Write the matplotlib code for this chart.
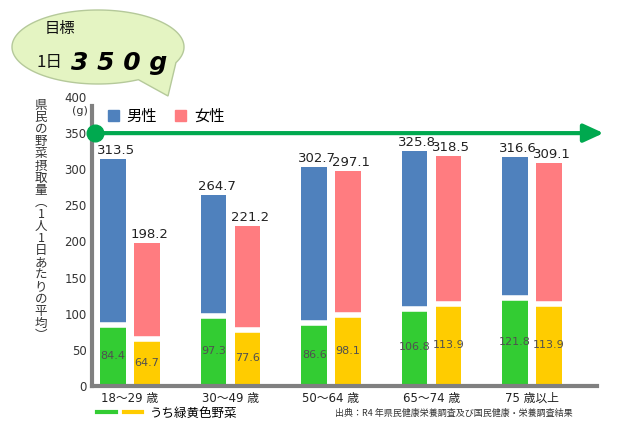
import numpy as np
import matplotlib
matplotlib.use("Agg")
import matplotlib.pyplot as plt
from matplotlib.patches import Patch, PathPatch
from matplotlib.path import Path
from matplotlib.lines import Line2D
from matplotlib.legend_handler import HandlerTuple

plt.rcParams['font.family'] = ['DejaVu Sans', 'Noto Sans CJK JP']

# data
ages = ['18～29 歳', '30～49 歳', '50～64 歳', '65～74 歳', '75 歳以上']
male_total = [313.5, 264.7, 302.7, 325.8, 316.6]
female_total = [198.2, 221.2, 297.1, 318.5, 309.1]
male_gy = [84.4, 97.3, 86.6, 106.8, 121.8]      # うち緑黄色野菜 (男性)
female_gy = [64.7, 77.6, 98.1, 113.9, 113.9]    # うち緑黄色野菜 (女性)
target = 350

c_blue = '#4f81bd'
c_pink = '#ff7c80'
c_green = '#33cc33'
c_yellow = '#ffcc00'
c_axis = '#808080'

W, H = 631, 426
fig = plt.figure(figsize=(W / 100, H / 100), dpi=100)
ax = fig.add_axes([92 / W, 1 - 386 / H, 505 / W, 289 / H])

x = np.arange(len(ages))
off, bw = 0.167, 0.254

for xs, tot, gy, top_c, low_c in [(x - off, male_total, male_gy, c_blue, c_green),
                                  (x + off, female_total, female_gy, c_pink, c_yellow)]:
    tot = np.array(tot)
    gy = np.array(gy)
    ax.bar(xs, gy, bw, color=low_c, zorder=2)
    ax.bar(xs, tot - gy, bw, bottom=gy, color=top_c, zorder=2)
    ax.hlines(gy, xs - bw / 2, xs + bw / 2, color='white', lw=4, zorder=3)
    for xi, t, g in zip(xs, tot, gy):
        ax.annotate(f'{t:.1f}', (xi, t), xytext=(2, 1.5), textcoords='offset points',
                    ha='center', va='bottom', fontsize=9.5, color='#222222', zorder=7)
        ax.text(xi, g / 2, f'{g:.1f}', ha='center', va='center', fontsize=8,
                color='#505050', zorder=4)

ax.set_xlim(-0.378, 4.647)
ax.set_ylim(0, 400)
ax.set_yticks(range(0, 401, 50))
ax.set_xticks(x)
ax.set_xticklabels(ages, fontsize=8.5, color='#222222')
ax.tick_params(axis='y', length=0, pad=4, labelsize=8.5, labelcolor='#333333')
ax.tick_params(axis='x', length=0, pad=4)
for s in ['top', 'right']:
    ax.spines[s].set_visible(False)
for s in ['left', 'bottom']:
    ax.spines[s].set_color(c_axis)
    ax.spines[s].set_linewidth(3)
ax.spines['left'].set_bounds(0, 388)

# target arrow at 350
ax.annotate('', xy=(4.74, target), xytext=(-0.378, target),
            arrowprops=dict(arrowstyle='-|>,head_length=1.2,head_width=0.55',
                            color='#00a94f', lw=3), annotation_clip=False, zorder=5)
ax.plot([-0.35], [target], 'o', ms=12, color='#00a94f', clip_on=False, zorder=6)

ax.text(-0.008, 0.95, '(g)', transform=ax.transAxes, ha='right', va='center',
        fontsize=8, color='#333333')

# top legend
leg = ax.legend(handles=[Patch(color=c_blue, label='男性'), Patch(color=c_pink, label='女性')],
                loc='upper left', bbox_to_anchor=(0.005, 1.01), ncol=2, frameon=False,
                handlelength=0.7, handleheight=0.7, handletextpad=0.5, columnspacing=1.2,
                prop={'family': ['Noto Sans CJK JP'], 'size': 11})

# bottom legend
fig.legend(handles=[(Line2D([], [], color=c_green, lw=3), Line2D([], [], color=c_yellow, lw=3))],
           labels=['うち緑黄色野菜'], handler_map={tuple: HandlerTuple(ndivide=None, pad=0.6)},
           loc='center left', bbox_to_anchor=(86 / W, 1 - 413 / H), frameon=False,
           handlelength=3.6, handletextpad=0.6,
           prop={'family': ['Noto Sans CJK JP'], 'size': 9})

fig.text(335 / W, 1 - 413 / H, '出典：R4 年県民健康栄養調査及び国民健康・栄養調査結果',
         fontsize=6.5, color='#333333', va='center', family=['Noto Sans CJK JP'])

# vertical y label
ylabel = '県民の野菜摂取量︵1人1日あたりの平均︶'
fig.text(41 / W, 1 - 99 / H, '\n'.join(ylabel), ha='center', va='top', fontsize=9,
         linespacing=0.91, color='#333333', family=['Noto Sans CJK JP'])

# speech bubble
cx, cy, a, b = 98, 47, 86, 37
t1, t2 = np.deg2rad(25), np.deg2rad(62)
th = np.linspace(t2, t1 + 2 * np.pi, 200)
px = list(cx + a * np.cos(th)) + [168]
py = list(cy + b * np.sin(th)) + [96]
verts = [(u / W, 1 - v / H) for u, v in zip(px, py)]
verts.append(verts[0])
codes = [Path.MOVETO] + [Path.LINETO] * (len(verts) - 2) + [Path.CLOSEPOLY]
fig.patches.append(PathPatch(Path(verts, codes), transform=fig.transFigure,
                             facecolor='#e4f4c2', edgecolor='#b5c99a', lw=1))
fig.text(60 / W, 1 - 28 / H, '目標', ha='center', va='center', fontsize=11,
         family=['Noto Sans CJK JP'], color='#111111')
fig.text(49 / W, 1 - 62 / H, '1日', ha='center', va='center', fontsize=12,
         family=['Noto Sans CJK JP'], color='#111111')
fig.text(119 / W, 1 - 63 / H, '3 5 0 g', ha='center', va='center', fontsize=18,
         fontweight='heavy', fontstyle='italic', color='black')

fig.savefig('out.png', dpi=100)
